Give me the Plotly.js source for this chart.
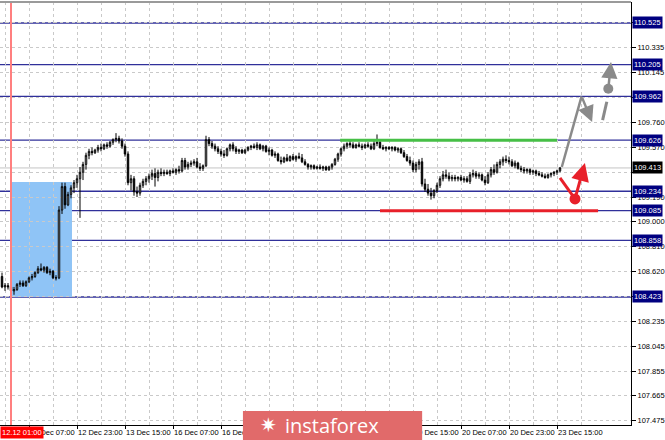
<!DOCTYPE html>
<html><head><meta charset="utf-8">
<script src="https://cdn.plot.ly/plotly-3.0.1.min.js"></script>
<style>html,body{margin:0;padding:0;background:#fff;}#chart{width:665px;height:440px;}</style>
</head><body><div id="chart"></div>
<script>
// H1 bars; x = bar number counted from the 12 Dec 07:00 bar (first bar is 9 bars earlier)
const firstBarNumber = -9;
const openP = [
108.58,108.50,108.51,108.50,108.47,108.48,108.52,108.53,108.51,108.54,
108.57,108.58,108.61,108.64,108.63,108.65,108.61,108.62,108.57,108.57,
109.09,109.27,109.13,109.21,109.26,109.30,109.33,109.38,109.44,109.51,
109.54,109.53,109.55,109.57,109.56,109.59,109.58,109.61,109.63,109.64,
109.62,109.58,109.52,109.30,109.33,109.23,109.22,109.28,109.31,109.33,
109.35,109.37,109.34,109.38,109.37,109.38,109.37,109.39,109.38,109.40,
109.39,109.47,109.42,109.44,109.45,109.46,109.42,109.41,109.43,109.63,
109.60,109.58,109.56,109.54,109.52,109.51,109.56,109.59,109.56,109.54,
109.55,109.53,109.55,109.57,109.58,109.57,109.59,109.56,109.58,109.54,
109.55,109.51,109.52,109.47,109.46,109.49,109.47,109.50,109.48,109.50,
109.49,109.46,109.44,109.42,109.43,109.41,109.42,109.41,109.42,109.40,
109.42,109.44,109.48,109.52,109.56,109.58,109.60,109.59,109.57,109.59,
109.58,109.57,109.59,109.58,109.56,109.60,109.61,109.57,109.56,109.57,
109.56,109.57,109.55,109.56,109.53,109.50,109.47,109.45,109.40,109.44,
109.46,109.29,109.25,109.22,109.20,109.24,109.28,109.33,109.36,109.35,
109.33,109.34,109.33,109.34,109.32,109.33,109.31,109.36,109.37,109.35,
109.36,109.32,109.30,109.36,109.40,109.38,109.44,109.46,109.48,109.47,
109.46,109.43,109.45,109.41,109.40,109.39,109.40,109.38,109.39,109.37,
109.36,109.35,109.34,109.36,109.37,109.38,109.39];
const highP = [
108.61,108.53,108.53,108.52,108.50,108.53,108.55,108.55,108.55,108.58,
108.60,108.62,108.66,108.68,108.66,108.66,108.64,108.63,108.59,109.12,
109.30,109.30,109.23,109.28,109.32,109.36,109.42,109.46,109.53,109.56,
109.57,109.56,109.59,109.60,109.60,109.61,109.62,109.64,109.68,109.66,
109.64,109.60,109.54,109.36,109.35,109.27,109.30,109.33,109.35,109.37,
109.40,109.41,109.40,109.41,109.40,109.40,109.40,109.41,109.41,109.43,
109.49,109.49,109.46,109.47,109.48,109.49,109.45,109.44,109.66,109.65,
109.62,109.60,109.58,109.56,109.55,109.57,109.60,109.61,109.58,109.56,
109.56,109.56,109.58,109.59,109.60,109.61,109.60,109.59,109.59,109.57,
109.56,109.54,109.53,109.50,109.50,109.52,109.51,109.52,109.51,109.53,
109.52,109.48,109.45,109.44,109.44,109.43,109.44,109.43,109.43,109.43,
109.45,109.49,109.53,109.57,109.60,109.61,109.62,109.61,109.60,109.61,
109.60,109.60,109.61,109.60,109.62,109.67,109.63,109.59,109.58,109.58,
109.58,109.58,109.57,109.57,109.55,109.52,109.50,109.47,109.46,109.48,
109.49,109.33,109.29,109.26,109.25,109.30,109.35,109.39,109.40,109.38,
109.36,109.36,109.35,109.36,109.35,109.35,109.38,109.40,109.39,109.38,
109.37,109.35,109.38,109.42,109.44,109.46,109.48,109.50,109.51,109.50,
109.48,109.47,109.46,109.43,109.42,109.41,109.41,109.40,109.40,109.39,
109.38,109.37,109.37,109.38,109.39,109.40,109.42];
const lowP = [
108.49,108.47,108.48,108.45,108.44,108.47,108.50,108.50,108.50,108.53,
108.55,108.57,108.60,108.62,108.61,108.60,108.59,108.56,108.55,108.56,
109.06,109.10,109.12,109.18,109.22,109.26,109.03,109.32,109.40,109.48,
109.51,109.52,109.53,109.54,109.55,109.56,109.57,109.59,109.61,109.60,
109.56,109.50,109.28,109.24,109.20,109.19,109.20,109.26,109.28,109.30,
109.32,109.27,109.31,109.35,109.35,109.36,109.35,109.37,109.36,109.37,
109.38,109.40,109.40,109.42,109.43,109.41,109.39,109.39,109.42,109.58,
109.56,109.54,109.52,109.50,109.49,109.50,109.54,109.54,109.52,109.52,
109.52,109.52,109.54,109.55,109.56,109.55,109.55,109.54,109.53,109.51,
109.50,109.49,109.46,109.44,109.45,109.46,109.46,109.47,109.46,109.48,
109.45,109.43,109.40,109.40,109.40,109.40,109.40,109.39,109.39,109.39,
109.40,109.43,109.46,109.50,109.54,109.56,109.57,109.56,109.56,109.57,
109.55,109.56,109.57,109.55,109.55,109.58,109.56,109.55,109.54,109.55,
109.54,109.54,109.53,109.52,109.49,109.46,109.43,109.38,109.38,109.40,
109.27,109.23,109.20,109.17,109.18,109.22,109.26,109.31,109.33,109.31,
109.31,109.31,109.31,109.31,109.30,109.30,109.29,109.34,109.33,109.33,
109.31,109.28,109.29,109.34,109.36,109.37,109.41,109.43,109.45,109.44,
109.42,109.41,109.40,109.38,109.37,109.37,109.36,109.36,109.35,109.35,
109.34,109.33,109.33,109.34,109.35,109.36,109.38];
const closeP = [
108.50,108.51,108.50,108.47,108.48,108.52,108.53,108.51,108.54,108.57,
108.58,108.61,108.64,108.63,108.65,108.61,108.62,108.57,108.57,109.09,
109.27,109.13,109.21,109.26,109.30,109.33,109.38,109.44,109.51,109.54,
109.53,109.55,109.57,109.56,109.59,109.58,109.61,109.63,109.64,109.62,
109.58,109.52,109.30,109.33,109.23,109.22,109.28,109.31,109.33,109.35,
109.37,109.34,109.38,109.37,109.38,109.37,109.39,109.38,109.40,109.39,
109.47,109.42,109.44,109.45,109.46,109.42,109.41,109.43,109.63,109.60,
109.58,109.56,109.54,109.52,109.51,109.56,109.59,109.56,109.54,109.55,
109.53,109.55,109.57,109.58,109.57,109.59,109.56,109.58,109.54,109.55,
109.51,109.52,109.47,109.46,109.49,109.47,109.50,109.48,109.50,109.49,
109.46,109.44,109.42,109.43,109.41,109.42,109.41,109.42,109.40,109.42,
109.44,109.48,109.52,109.56,109.58,109.60,109.59,109.57,109.59,109.58,
109.57,109.59,109.58,109.56,109.60,109.61,109.57,109.56,109.57,109.56,
109.57,109.55,109.56,109.53,109.50,109.47,109.45,109.40,109.44,109.46,
109.29,109.25,109.22,109.20,109.24,109.28,109.33,109.36,109.35,109.33,
109.34,109.33,109.34,109.32,109.33,109.31,109.36,109.37,109.35,109.36,
109.32,109.30,109.36,109.40,109.38,109.44,109.46,109.48,109.47,109.46,
109.43,109.45,109.41,109.40,109.39,109.40,109.38,109.39,109.37,109.36,
109.35,109.34,109.36,109.37,109.38,109.39,109.413];

const xTickLabels = ['12 Dec 07:00','12 Dec 23:00','13 Dec 15:00','16 Dec 07:00','16 Dec 23:00','17 Dec 15:00',
  '18 Dec 07:00','18 Dec 23:00','19 Dec 15:00','20 Dec 07:00','20 Dec 23:00','23 Dec 15:00'];
// labels completely covered by the instaforex badge in the reference
const xLabelsUnderBadge = ['17 Dec 15:00','18 Dec 07:00','18 Dec 23:00'];
const barsPerLabel = 16;
const yTickValues = [107.475,107.665,107.855,108.045,108.235,108.430,108.620,108.810,109.000,109.190,109.380,109.570,109.760,109.950,110.145,110.335,110.525];
const levelValues = [110.525,110.205,109.962,109.626,109.234,109.085,108.858,108.423];
const currentPrice = 109.413;
const markerLabel = '12.12 01:00';
const markerBar = -6;
const zoneBars = [-6.33, 14.33];
const zonePrices = [108.423, 109.305];
const greenLevel = {from: 103.7, to: 176, price: 109.626};
const redLevel = {from: 117, to: 189.7, price: 109.085};
// forecast sketch points (bar number, price)
const grayPathX = [177.6, 184.2], grayPathY = [109.42, 109.962];
const grayArrowTip = [187.7, 109.765];
const grayDashX = [191.2, 192.6], grayDashY = [109.78, 109.921];
const grayDot = [193.1, 110.02];
const grayUpTip = [194.0, 110.225];
const redPathX = [177, 182], redPathY = [109.336, 109.175];
const redArrowTip = [185.3, 109.451];

const xs = closeP.map((_, k) => k + firstBarNumber);
const tickvals = xTickLabels.map((_, k) => k * barsPerLabel);
const xTickText = xTickLabels.map(t => xLabelsUnderBadge.includes(t) ? '' : t);
const minorVals = xTickLabels.map((_, k) => k * barsPerLabel - barsPerLabel / 2).concat([xTickLabels.length * barsPerLabel - barsPerLabel / 2]);
// tick labels fully hidden under a level/price box are left blank (their grid lines stay)
const hiddenTicks = [108.430, 109.380, 109.950, 110.525];
const yTickText = yTickValues.map(v => hiddenTicks.includes(v) ? '' : v.toFixed(3));

const gridColor = '#c9c9c9';
const levelColor = '#30309a';
const fontFam = 'Liberation Sans, Arial, sans-serif';

const traces = [
  {type:'candlestick', x: xs, open: openP, high: highP, low: lowP, close: closeP,
   increasing:{line:{color:'#000', width:1}, fillcolor:'#ffffff'},
   decreasing:{line:{color:'#000', width:1}, fillcolor:'#000000'},
   whiskerwidth:0, hoverinfo:'skip'},
  {type:'scatter', mode:'lines', x: grayPathX, y: grayPathY, line:{color:'#8a8a8a', width:2.5}, hoverinfo:'skip'},
  {type:'scatter', mode:'lines', x: grayDashX, y: grayDashY, line:{color:'#8a8a8a', width:3}, hoverinfo:'skip'},
  {type:'scatter', mode:'markers', x:[grayDot[0]], y:[grayDot[1]], marker:{color:'#8a8a8a', size:10}, hoverinfo:'skip'},
  {type:'scatter', mode:'lines', x: redPathX, y: redPathY, line:{color:'#e8202a', width:3}, hoverinfo:'skip'},
  {type:'scatter', mode:'markers', x:[redPathX[1]], y:[redPathY[1]], marker:{color:'#e8202a', size:11}, hoverinfo:'skip'}
];

const shapes = [
  {type:'rect', xref:'x', yref:'y', x0: zoneBars[0], x1: zoneBars[1], y0: zonePrices[0], y1: zonePrices[1],
   fillcolor:'#8fc4f6', line:{width:0}, layer:'below'},
  {type:'line', xref:'paper', yref:'y', x0:0, x1:1, y0: currentPrice, y1: currentPrice, line:{color:'#c4c4c4', width:1}, layer:'below'}
];
levelValues.forEach(v => shapes.push({type:'line', xref:'paper', yref:'y', x0:0, x1:1, y0:v, y1:v,
  line:{color:levelColor, width:1.3}, layer:'below'}));
shapes.push({type:'line', xref:'x', yref:'y', x0: greenLevel.from, x1: greenLevel.to, y0: greenLevel.price, y1: greenLevel.price,
  line:{color:'#46bf46', width:3}});
shapes.push({type:'line', xref:'x', yref:'y', x0: redLevel.from, x1: redLevel.to, y0: redLevel.price, y1: redLevel.price,
  line:{color:'#e8202a', width:3}});
shapes.push({type:'line', xref:'x', yref:'paper', x0: markerBar, x1: markerBar, y0:0, y1:1, line:{color:'#ff7f7f', width:2}});
shapes.push({type:'line', xref:'paper', yref:'paper', x0:0, x1:1, y0:1, y1:1, line:{color:'#9a9a9a', width:2}});
// instaforex badge
shapes.push({type:'rect', xref:'paper', yref:'paper', x0:0.385, x1:0.669, y0:-0.036, y1:0.033,
  fillcolor:'#e16a6a', line:{width:0}, layer:'above'});

const annotations = [];
levelValues.forEach(v => annotations.push({xref:'paper', x:1, xanchor:'left', xshift:1, yref:'y', y:v,
  text: v.toFixed(3), showarrow:false, bgcolor:'#000080', font:{color:'#fff', size:7.5, family:fontFam}, borderpad:1}));
annotations.push({xref:'paper', x:1, xanchor:'left', xshift:1, yref:'y', y:currentPrice,
  text: currentPrice.toFixed(3), showarrow:false, bgcolor:'#000', font:{color:'#fff', size:7.5, family:fontFam}, borderpad:1});
annotations.push({xref:'paper', x:0, xanchor:'left', yref:'paper', y:0, yanchor:'top', yshift:-1,
  text: markerLabel, showarrow:false, bgcolor:'#ff0000', font:{color:'#fff', size:7.5, family:fontFam}, borderpad:1});
annotations.push({xref:'paper', x:0.526, yref:'paper', y:0, yanchor:'middle', text:'instaforex', showarrow:false,
  font:{color:'#fff', size:20, family:'Open Sans, sans-serif'}});
annotations.push({xref:'paper', x:0.425, yref:'paper', y:0, yanchor:'middle', text:'✷', showarrow:false,
  font:{color:'#fff', size:20, family:'DejaVu Sans'}});
// arrows
annotations.push({xref:'x', yref:'y', axref:'x', ayref:'y', x: grayArrowTip[0], y: grayArrowTip[1], ax: grayPathX[1], ay: grayPathY[1],
  showarrow:true, arrowhead:2, arrowsize:1.3, arrowwidth:2.5, arrowcolor:'#8a8a8a', text:'', standoff:0});
annotations.push({xref:'x', yref:'y', axref:'x', ayref:'y', x: grayUpTip[0], y: grayUpTip[1], ax: grayDot[0], ay: grayDot[1],
  showarrow:true, arrowhead:2, arrowsize:1.3, arrowwidth:2.5, arrowcolor:'#8a8a8a', text:'', standoff:0});
annotations.push({xref:'x', yref:'y', axref:'x', ayref:'y', x: redArrowTip[0], y: redArrowTip[1], ax: redPathX[1], ay: redPathY[1],
  showarrow:true, arrowhead:2, arrowsize:1.2, arrowwidth:3, arrowcolor:'#e8202a', text:'', standoff:0});

const layout = {
  width:665, height:440, margin:{l:0, r:34, t:2, b:15},
  paper_bgcolor:'#fff', plot_bgcolor:'#fff', showlegend:false,
  font:{family:fontFam, size:7.5, color:'#000'},
  xaxis:{range:[-9.667, 200.667], tickvals: tickvals, ticktext: xTickText, ticks:'outside', ticklen:3,
    tickcolor:'#000', showline:true, linecolor:'#000', linewidth:1, showgrid:true, gridcolor:gridColor, griddash:'3px,3px',
    zeroline:false, ticklabelposition:'outside right', tickangle:0, ticklabelstandoff:0, tickfont:{size:7.5, family:fontFam},
    minor:{tickvals:minorVals, showgrid:true, gridcolor:gridColor, griddash:'3px,3px', ticks:''},
    rangeslider:{visible:false}, fixedrange:true},
  yaxis:{side:'right', range:[107.441, 110.686], tickvals: yTickValues, ticktext: yTickText,
    ticks:'outside', ticklen:4, tickcolor:'#000', showline:true, linecolor:'#000', linewidth:1,
    showgrid:true, gridcolor:gridColor, griddash:'3px,3px', zeroline:false, tickfont:{size:7.5, family:fontFam}, fixedrange:true},
  shapes: shapes, annotations: annotations
};
Plotly.newPlot('chart', traces, layout, {staticPlot:true, displayModeBar:false});
</script></body></html>
